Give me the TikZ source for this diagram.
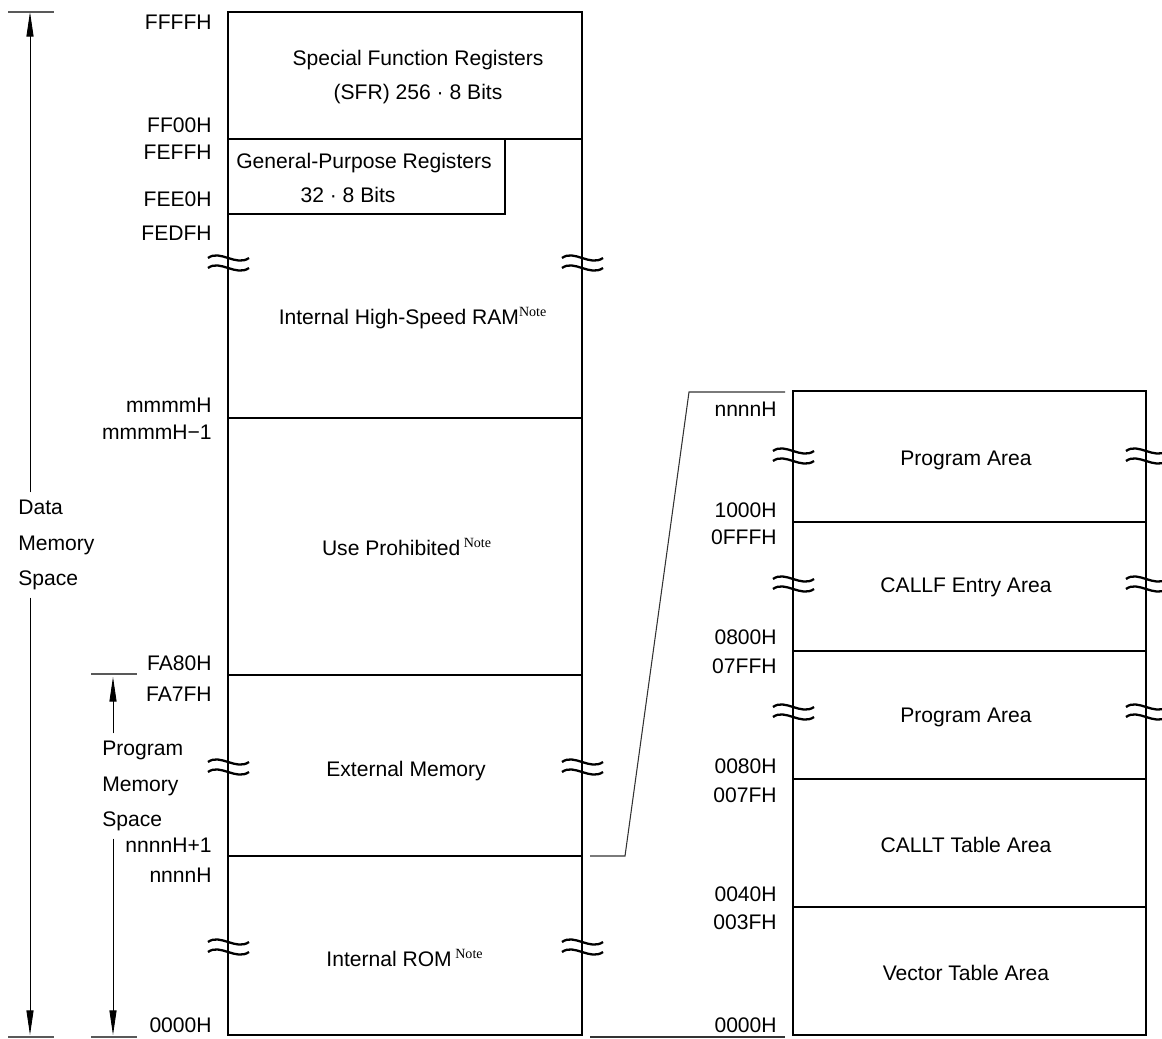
\documentclass[tikz,border=0pt]{standalone}
\usepackage{fontspec}
\setmainfont{Liberation Sans}
\newfontfamily\notefont{Liberation Serif}
\usepackage{tikz}
\usetikzlibrary{
arrows.meta,
positioning
}

\newcommand{\notesup}{\textsuperscript{\notefont Note}}

\tikzset{
  addr/.style={anchor=east, inner sep=0pt},
  area/.style={inner sep=0pt, align=center},
  frame/.style={line width=1.6pt},
  divider/.style={line width=0.85pt},
  dimline/.style={line width=0.5pt, -{Triangle[length=14pt,width=4pt]}},
  tickline/.style={line width=0.6pt, black!65},
  linkline/.style={line width=0.6pt, black!80},
  brk/.style={line width=1.3pt}
}

% break mark: two tildes across a vertical edge
\newcommand{\brkmark}[2]{%
  \draw[brk] (#1-20,#2-5) .. controls (#1-8,#2-14) and (#1+8,#2+4) .. (#1+21,#2-5);
  \draw[brk] (#1-20,#2+5) .. controls (#1-8,#2-4) and (#1+8,#2+14) .. (#1+21,#2+5);
}

\begin{document}
\begin{tikzpicture}[x=0.02cm, y=-0.02cm, font=\fontsize{12}{19.5}\selectfont]
\useasboundingbox (0,0) rectangle (1162,1038);

% Data memory block
\draw[frame] (228,12) rectangle (582,1035);
\foreach \y in {139,418,675,856}
  \draw[divider] (228,\y) -- (582,\y);
\draw[divider] (505,139) -- (505,214) -- (228,214);

% Break marks, left block
\foreach \y in {263,767,947} {
  \brkmark{228}{\y}
  \brkmark{582}{\y}
}

% Areas of the left block
\node[area] (sfr) at (418,77) {Special Function Registers\\(SFR) 256 · 8 Bits};
\node[area] (gprname) at (364,163) {General-Purpose Registers};
\node[area] (gprsize) at (348,195) {32 · 8 Bits};
\node[area] (hsram) at (413,318) {Internal High-Speed RAM\notesup};
\node[area] (prohib) at (407,547) {Use Prohibited\,\notesup};
\node[area] (extmem) at (406,771) {External Memory};
\node[area] (introm) at (405,958) {Internal ROM\,\notesup};

% Addresses, left block
\node[addr] (affff) at (212,22) {FFFFH};
\node[addr] (aff00) at (212,125) {FF00H};
\node[addr] (afeff) at (212,152) {FEFFH};
\node[addr] (afee0) at (212,199) {FEE0H};
\node[addr] (afedf) at (212,233) {FEDFH};
\node[addr] (ammmm) at (212,405) {mmmmH};
\node[addr] (ammm1) at (212,432) {mmmmH−1};
\node[addr] (afa80) at (212,663) {FA80H};
\node[addr] (afa7f) at (212,694) {FA7FH};
\node[addr] (annn1) at (212,845) {nnnnH+1};
\node[addr] (annnn) at (212,875) {nnnnH};
\node[addr] (a0000) at (212,1025) {0000H};

% Data memory space
\coordinate (dmtop) at (30,12);
\coordinate (dmbot) at (30,1035);
\node[anchor=west, inner xsep=0pt, inner ysep=4pt, align=left,
  font=\fontsize{12}{20.4}\selectfont] (dmspace) at (18,545) {Data\\Memory\\Space};
\draw[dimline] (dmspace.north -| dmtop) -- (dmtop);
\draw[dimline] (dmspace.south -| dmbot) -- (dmbot);
\draw[tickline] (8,12) -- (54,12);
\draw[tickline] (8,1037) -- (54,1037);

% Program memory space
\coordinate (pmtop) at (113,677);
\coordinate (pmbot) at (113,1035);
\node[anchor=west, inner xsep=0pt, inner ysep=4pt, align=left,
  font=\fontsize{12}{20.4}\selectfont] (pmspace) at (102,786) {Program\\Memory\\Space};
\draw[dimline] (pmspace.north -| pmtop) -- (pmtop);
\draw[dimline] (pmspace.south -| pmbot) -- (pmbot);
\draw[tickline] (91,674) -- (137,674);
\draw[tickline] (91,1037) -- (137,1037);

% Program memory block (detail)
\draw[frame] (793,391) rectangle (1146,1035);
\foreach \y in {522,651,779,907}
  \draw[divider] (793,\y) -- (1146,\y);

% Break marks, right block
\foreach \y in {456,584,712} {
  \brkmark{793}{\y}
  \brkmark{1146}{\y}
}

% Areas of the right block
\node[area] (prog1) at (966,460) {Program Area};
\node[area] (callf) at (966,587) {CALLF Entry Area};
\node[area] (prog2) at (966,717) {Program Area};
\node[area] (callt) at (966,845) {CALLT Table Area};
\node[area] (vect) at (966,973) {Vector Table Area};

% Addresses, right block
\node[addr] (bnnnn) at (777,409) {nnnnH};
\node[addr] (b1000) at (777,510) {1000H};
\node[addr] (b0fff) at (777,537) {0FFFH};
\node[addr] (b0800) at (777,637) {0800H};
\node[addr] (b07ff) at (777,666) {07FFH};
\node[addr] (b0080) at (777,766) {0080H};
\node[addr] (b007f) at (777,795) {007FH};
\node[addr] (b0040) at (777,894) {0040H};
\node[addr] (b003f) at (777,922) {003FH};
\node[addr] (b0000) at (777,1025) {0000H};

% Links between the blocks
\coordinate (romtop) at (590,856);
\coordinate (romknee) at (625,856);
\coordinate (detknee) at (689,392);
\coordinate (dettop) at (785,392);
\coordinate (rombot) at (590,1037);
\coordinate (detbot) at (785,1037);
\draw[linkline] (romtop) -- (romknee) -- (detknee) -- (dettop);
\draw[linkline] (rombot) -- (detbot);

\end{tikzpicture}
\end{document}
